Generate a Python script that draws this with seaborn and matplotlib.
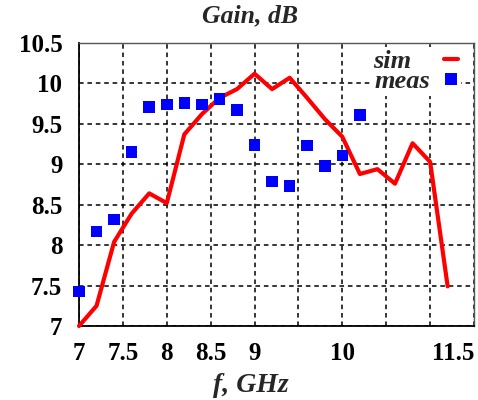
import numpy as np
import pandas as pd
import matplotlib
matplotlib.use("Agg")
import matplotlib.pyplot as plt
from matplotlib.lines import Line2D
import seaborn as sns

sim_f = [7.0, 7.2, 7.4, 7.6, 7.8, 8.0, 8.2, 8.4, 8.6, 8.8, 9.0, 9.2, 9.4, 9.6, 9.8,
         10.0, 10.2, 10.4, 10.6, 10.8, 11.0, 11.2]
sim_gain = [7.0, 7.25, 8.04, 8.39, 8.64, 8.52, 9.37, 9.62, 9.82, 9.93, 10.12, 9.93, 10.07,
            9.82, 9.56, 9.34, 8.88, 8.94, 8.76, 9.26, 9.03, 7.49]
meas_f = [7.0, 7.2, 7.4, 7.6, 7.8, 8.0, 8.2, 8.4, 8.6, 8.8, 9.0, 9.2, 9.4, 9.6, 9.8, 10.0, 10.2]
meas_gain = [7.43, 8.17, 8.32, 9.15, 9.71, 9.74, 9.76, 9.74, 9.81, 9.67, 9.24, 8.79, 8.73,
             9.23, 8.98, 9.11, 9.61]
x_ticks = [7.0, 7.5, 8.0, 8.5, 9.0, 9.5, 10.0, 10.5, 11.0, 11.5]
x_tick_labels = ["7", "7.5", "8", "8.5", "9", "", "10", "", "", "11.5"]
y_ticks = [7.0, 7.5, 8.0, 8.5, 9.0, 9.5, 10.0, 10.5]
y_tick_labels = ["7", "7.5", "8", "8.5", "9", "9.5", "10", "10.5"]
legend_labels = ["sim", "meas"]

sns.set_theme(style="white")
plt.rcParams['font.family'] = ['Liberation Serif', 'DejaVu Serif']

sim_df = pd.DataFrame({"f": sim_f, "gain": sim_gain})
meas_df = pd.DataFrame({"f": meas_f, "gain": meas_gain})

W, H = 478, 400
L, R, T, B = 79, 474, 43, 326
fig = plt.figure(figsize=(W/100, H/100), dpi=100)
ax = fig.add_axes([L/W, 1-B/H, (R-L)/W, (B-T)/H])

sns.lineplot(data=sim_df, x="f", y="gain", ax=ax, color="#ff0000", linewidth=3.0,
             zorder=3, clip_on=False)
sns.scatterplot(data=meas_df, x="f", y="gain", ax=ax, color="#0000ff", marker="s",
                s=68, edgecolor="none", zorder=4, clip_on=False)

ax.set_xlim(7.0, 11.5)
ax.set_ylim(7.0, 10.5)
ax.set_xticks(x_ticks)
ax.set_xticklabels(x_tick_labels)
ax.set_yticks(y_ticks)
ax.set_yticklabels(y_tick_labels)
ax.grid(True, color="black", linestyle=(0, (3, 2.5)), linewidth=1.1)
ax.set_axisbelow(True)
ax.tick_params(axis="x", direction="inout", length=7, width=1, pad=8, labelsize=18, colors="black")
ax.tick_params(axis="y", direction="out", length=3, width=1, pad=9, labelsize=18, colors="black")
for lab in ax.get_xticklabels() + ax.get_yticklabels():
    lab.set_fontweight("bold")
ax.get_xticklabels()[-1].set_ha("right")

for side in ["left", "bottom"]:
    ax.spines[side].set_color("black")
    ax.spines[side].set_linewidth(1.3)
for side in ["top", "right"]:
    ax.spines[side].set_color("#555555")
    ax.spines[side].set_linewidth(1.0)

ax.set_xlabel("f, GHz", fontsize=20, fontstyle="italic", fontweight="bold", va="center")
ax.xaxis.set_label_coords((251-L)/(R-L), (B-385)/(B-T))
ax.set_ylabel("")
fig.text(250/W, 1-16/H, "Gain, dB", ha="center", va="center", fontsize=18.5,
         fontstyle="italic", fontweight="bold")

h_sim = Line2D([], [], color="#ff0000", linewidth=3.0)
h_meas = Line2D([], [], color="#0000ff", marker="s", linestyle="none", markersize=8.8,
                markeredgewidth=0)
leg = ax.legend(handles=[h_sim, h_meas],
                labels=[legend_labels[0] + "   ", legend_labels[1]],
                loc="upper right", bbox_to_anchor=((461-L)/(R-L), (B-47)/(B-T)),
                markerfirst=False, frameon=True, fancybox=False, numpoints=1,
                prop={"size": 19, "style": "italic", "weight": "bold"},
                handlelength=0.55, handletextpad=0.5, labelspacing=-0.12,
                borderaxespad=0.0, borderpad=0.1)
leg.get_frame().set_edgecolor("none")
leg.get_frame().set_facecolor("white")
leg.get_frame().set_alpha(1)

fig.savefig("out.png", dpi=100)
